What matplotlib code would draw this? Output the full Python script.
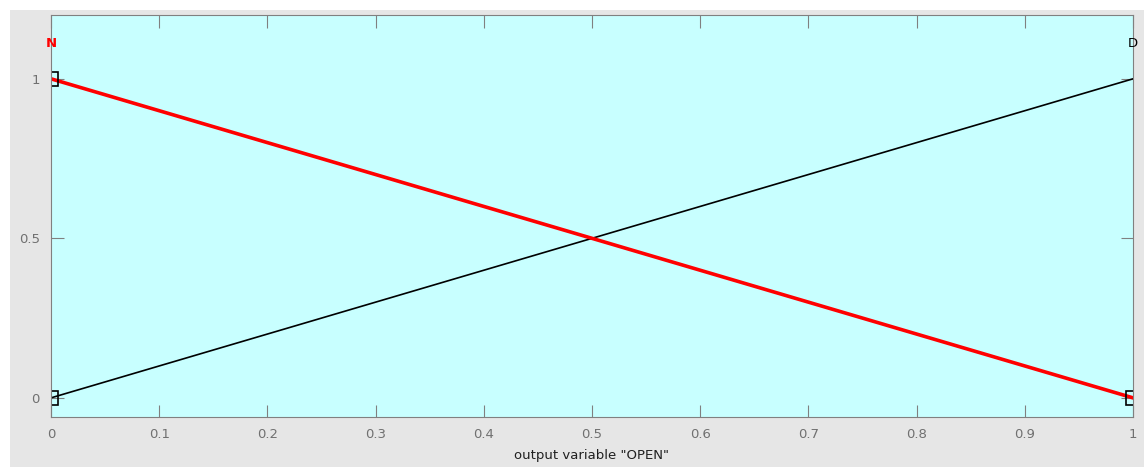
import matplotlib.pyplot as plt
from matplotlib.patches import Rectangle

x_range = [0, 1]
n_vals = [1, 0]      # red membership function "N"
d_vals = [0, 1]      # black membership function "D"
xticks = [0, 0.1, 0.2, 0.3, 0.4, 0.5, 0.6, 0.7, 0.8, 0.9, 1]
yticks = [0, 0.5, 1]
ytick_labels = ['0', '0.5', '1']

fig = plt.figure(figsize=(11.44, 4.67), dpi=100, facecolor='white')
fig.patches.append(Rectangle((10 / 1144, 0), 1, 1 - 10 / 467, transform=fig.transFigure,
                             facecolor='#e6e6e6', edgecolor='none', zorder=-10))

ax = fig.add_axes([51 / 1144, 1 - 417 / 467, 1082 / 1144, 402 / 467])
ax.set_facecolor('#c8ffff')

ax.plot(x_range, d_vals, color='black', lw=1.2)
ax.plot(x_range, n_vals, color='red', lw=2.6)

# parameter squares, clipped by the axes like the original
ax.plot([0], [0], marker='s', ms=10, mfc='none', mec='black', mew=1.2, ls='none')
ax.plot([0, 1], [1, 0], marker='s', ms=10, mfc='none', mec='black', mew=1.2, ls='none')

ax.text(0, 1.11, 'N', color='red', fontweight='bold', fontsize=9.5, ha='center', va='center')
ax.text(1, 1.11, 'D', color='black', fontsize=9.5, ha='center', va='center')

ax.set_xlim(0, 1)
ax.set_ylim(-0.06, 1.2)
ax.set_xticks(xticks)
ax.set_xticklabels([f'{t:g}' for t in xticks])
ax.set_yticks(yticks)
ax.set_yticklabels(ytick_labels)
ax.tick_params(direction='in', length=9, color='#808080', labelcolor='#707070',
               labelsize=9.5, top=True, right=True, pad=8)
for s in ax.spines.values():
    s.set_color('#808080')
ax.set_xlabel('output variable "OPEN"', fontsize=9.5, color='#202020', labelpad=6)

fig.savefig('out.png', dpi=100, facecolor=fig.get_facecolor())
